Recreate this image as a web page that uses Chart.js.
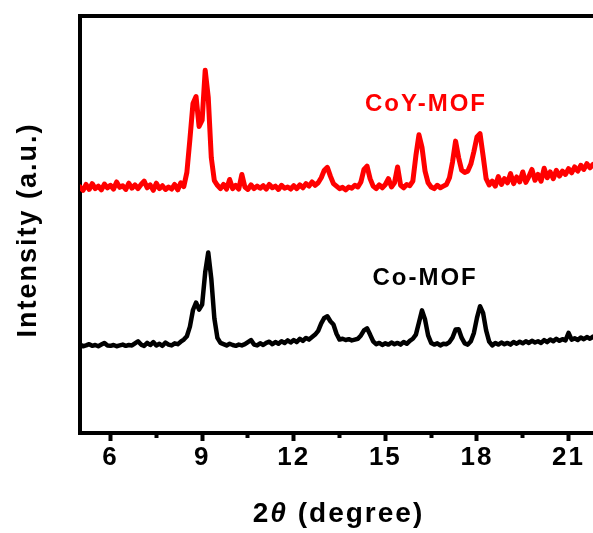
<!DOCTYPE html>
<html>
<head>
<meta charset="utf-8">
<title>XRD patterns</title>
<script src="https://cdn.jsdelivr.net/npm/chart.js@4.4.1/dist/chart.umd.min.js"></script>
<style>
  html, body { margin: 0; padding: 0; background: #fff; overflow: hidden; }
  canvas { display: block; }
</style>
</head>
<body>
<canvas id="xrd-chart" width="593" height="533"></canvas>
<script>

// 2theta positions (degree), 0.1 step
const twoTheta = [
  5.0, 5.1, 5.2, 5.3, 5.4, 5.5, 5.6, 5.7, 5.8, 5.9,
  6.0, 6.1, 6.2, 6.3, 6.4, 6.5, 6.6, 6.7, 6.8, 6.9,
  7.0, 7.1, 7.2, 7.3, 7.4, 7.5, 7.6, 7.7, 7.8, 7.9,
  8.0, 8.1, 8.2, 8.3, 8.4, 8.5, 8.6, 8.7, 8.8, 8.9,
  9.0, 9.1, 9.2, 9.3, 9.4, 9.5, 9.6, 9.7, 9.8, 9.9,
  10.0, 10.1, 10.2, 10.3, 10.4, 10.5, 10.6, 10.7, 10.8, 10.9,
  11.0, 11.1, 11.2, 11.3, 11.4, 11.5, 11.6, 11.7, 11.8, 11.9,
  12.0, 12.1, 12.2, 12.3, 12.4, 12.5, 12.6, 12.7, 12.8, 12.9,
  13.0, 13.1, 13.2, 13.3, 13.4, 13.5, 13.6, 13.7, 13.8, 13.9,
  14.0, 14.1, 14.2, 14.3, 14.4, 14.5, 14.6, 14.7, 14.8, 14.9,
  15.0, 15.1, 15.2, 15.3, 15.4, 15.5, 15.6, 15.7, 15.8, 15.9,
  16.0, 16.1, 16.2, 16.3, 16.4, 16.5, 16.6, 16.7, 16.8, 16.9,
  17.0, 17.1, 17.2, 17.3, 17.4, 17.5, 17.6, 17.7, 17.8, 17.9,
  18.0, 18.1, 18.2, 18.3, 18.4, 18.5, 18.6, 18.7, 18.8, 18.9,
  19.0, 19.1, 19.2, 19.3, 19.4, 19.5, 19.6, 19.7, 19.8, 19.9,
  20.0, 20.1, 20.2, 20.3, 20.4, 20.5, 20.6, 20.7, 20.8, 20.9,
  21.0, 21.1, 21.2, 21.3, 21.4, 21.5, 21.6, 21.7, 21.8
];

// CoY-MOF pattern (offset upwards)
const coyMof = [
  59.0, 58.2, 59.6, 58.4, 59.8, 58.6, 59.2, 58.3, 59.7, 58.8,
  59.4, 58.5, 60.2, 58.9, 59.3, 58.4, 59.9, 58.7, 59.5, 58.6,
  59.6, 60.4, 58.8, 59.5, 58.2, 59.9, 58.6, 59.3, 58.4, 59.0,
  58.5, 59.6, 58.3, 60.0, 59.1, 62.5, 70.5, 79.0, 80.7, 73.5,
  75.0, 87.0, 80.5, 66.0, 60.5, 59.4, 58.6, 59.6, 58.5, 60.8,
  58.6, 59.4, 58.5, 62.0, 59.0, 58.4, 59.5, 58.6, 59.2, 58.7,
  59.3, 58.5, 59.6, 58.8, 59.2, 58.4, 59.4, 58.7, 59.0, 58.5,
  59.3, 58.6, 59.5, 58.8, 59.8, 59.2, 60.2, 59.4, 60.0, 61.2,
  63.0, 63.7, 61.6, 59.8, 59.2, 58.6, 58.9, 58.3, 59.0, 58.7,
  59.4, 59.0, 60.2, 63.2, 64.0, 61.0, 59.2, 58.6, 59.5, 58.8,
  59.6, 61.0, 59.0, 60.0, 63.8, 59.4, 58.8, 59.6, 59.3, 60.4,
  66.5, 71.5, 68.5, 62.8, 60.0, 59.0, 58.6, 59.4, 58.8, 59.2,
  59.6, 61.2, 65.0, 70.0, 66.0, 63.0, 62.5, 62.8, 64.5, 67.5,
  71.0, 71.8, 66.5, 61.0, 59.5, 60.4, 59.2, 61.5, 59.6, 61.0,
  60.0, 62.2, 59.8, 61.4, 60.2, 62.6, 60.1, 61.5, 63.2, 60.6,
  62.0, 60.4, 63.5, 61.2, 62.6, 61.0, 63.0, 61.6, 62.8, 62.0,
  63.4, 62.4, 63.8, 62.8, 64.2, 63.2, 64.6, 63.6, 64.4
];

// Co-MOF pattern
const coMof = [
  21.2, 20.8, 21.0, 21.3, 20.9, 21.1, 20.8, 21.2, 21.6, 21.0,
  20.9, 21.1, 20.8, 21.0, 21.2, 20.9, 21.1, 21.0, 21.5, 22.0,
  21.2, 20.9, 21.6, 21.1, 21.8, 21.0, 21.4, 20.9, 21.7, 21.2,
  21.0, 21.5, 21.3, 21.9, 22.4, 23.2, 25.5, 29.5, 31.3, 29.6,
  30.8, 38.5, 43.3, 37.0, 27.5, 22.8, 21.6, 21.3, 21.0, 21.4,
  21.1, 20.9, 21.2, 21.0, 21.3, 21.8, 22.3, 21.2, 21.0, 21.5,
  21.1, 21.6, 21.9, 21.3, 21.8, 21.4, 22.0, 21.6, 22.2, 21.7,
  22.3, 21.8, 22.6, 22.1, 22.8, 22.4, 23.0, 23.6, 24.5, 26.3,
  27.6, 28.0, 26.8, 26.0, 23.8, 22.4, 22.6, 22.3, 22.5, 22.2,
  22.4, 22.6, 23.4, 24.6, 25.1, 23.6, 22.0, 21.3, 21.6, 21.1,
  21.5, 21.2, 21.7, 21.3, 21.6, 21.2, 21.8, 21.4, 22.1, 22.6,
  23.6, 26.5, 29.4, 27.2, 23.4, 21.6, 21.2, 21.5, 21.0, 21.4,
  21.3, 21.8, 22.9, 24.8, 24.9, 22.8, 21.5, 21.2, 22.0, 24.0,
  27.6, 30.4, 28.8, 24.6, 21.9, 21.0, 21.6, 21.2, 21.7, 21.3,
  21.6, 21.2, 21.8, 21.4, 21.9, 21.5, 22.0, 21.6, 22.1, 21.7,
  22.0, 21.6, 22.3, 21.8, 22.4, 22.0, 22.6, 22.1, 22.5, 22.2,
  24.0, 22.4, 22.7, 22.3, 22.9, 22.5, 23.0, 22.6, 23.1
];

const sampleNames = ["CoY-MOF", "Co-MOF"];
const sampleColors = ["#ff0000", "#000000"];
const majorTicks = [6, 9, 12, 15, 18, 21];

const FONT = "'Liberation Sans', Arial, sans-serif";

function toPoints(xs, ys) {
  return xs.map((x, i) => ({ x: x, y: ys[i] }));
}

// frame top line, sample names and the axis titles (2θ with italic theta)
const decorations = {
  id: "decorations",
  beforeDraw(chart) {
    chart.ctx.letterSpacing = "2px";
  },
  afterDraw(chart, args, opts) {
    const ctx = chart.ctx;
    const area = chart.chartArea;
    const xs = chart.scales.x;
    const ys = chart.scales.y;

    ctx.save();
    ctx.strokeStyle = "#000";
    ctx.lineWidth = 4;
    ctx.beginPath();
    ctx.moveTo(area.left - 2, area.top);
    ctx.lineTo(area.right, area.top);
    ctx.stroke();

    ctx.letterSpacing = "2px";
    ctx.font = "bold 24px " + FONT;
    ctx.textAlign = "center";
    ctx.textBaseline = "middle";
    opts.labels.forEach((lb, i) => {
      ctx.fillStyle = sampleColors[i];
      ctx.fillText(sampleNames[i], xs.getPixelForValue(lb[0]), ys.getPixelForValue(lb[1]));
    });

    ctx.fillStyle = "#000";

    // y axis title
    ctx.save();
    ctx.translate(opts.yTitle[0], opts.yTitle[1]);
    ctx.rotate(-Math.PI / 2);
    ctx.font = "bold 27px " + FONT;
    ctx.fillText("Intensity (a.u.)", 0, 0);
    ctx.restore();

    // x axis title
    const parts = [
      { t: "2", f: "bold 28px " + FONT },
      { t: "\u03B8", f: "italic bold 28px " + FONT },
      { t: " (degree)", f: "bold 28px " + FONT }
    ];
    let total = 0;
    parts.forEach(p => { ctx.font = p.f; p.w = ctx.measureText(p.t).width; total += p.w; });
    let x = (area.left + area.right) / 2 - total / 2 + 2;
    ctx.textAlign = "left";
    parts.forEach(p => { ctx.font = p.f; ctx.fillText(p.t, x, opts.xTitleY); x += p.w; });
    ctx.restore();
  }
};

new Chart(document.getElementById("xrd-chart"), {
  type: "line",
  data: {
    datasets: [
      {
        label: sampleNames[0],
        data: toPoints(twoTheta, coyMof),
        borderColor: sampleColors[0],
        borderWidth: 5,
        pointRadius: 0,
        tension: 0,
        borderJoinStyle: "round",
        borderCapStyle: "round"
      },
      {
        label: sampleNames[1],
        data: toPoints(twoTheta, coMof),
        borderColor: sampleColors[1],
        borderWidth: 4.5,
        pointRadius: 0,
        tension: 0,
        borderJoinStyle: "round",
        borderCapStyle: "round"
      }
    ]
  },
  options: {
    responsive: false,
    animation: false,
    layout: { padding: { top: 16, right: 0, bottom: 0, left: 0 } },
    plugins: {
      legend: { display: false },
      tooltip: { enabled: false },
      decorations: {
        labels: [[16.33, 78.7], [16.3, 37.2]],
        xTitleY: 514,
        yTitle: [29, 230]
      }
    },
    scales: {
      x: {
        type: "linear",
        min: 5,
        max: 21.8,
        afterFit: s => { s.height = 100; },
        border: { display: true, color: "#000", width: 4 },
        grid: {
          display: true,
          drawOnChartArea: false,
          tickLength: 8,
          tickWidth: 4,
          tickColor: "#000",
          tickBorderDash: c => (majorTicks.includes(c.tick && c.tick.value) ? [] : [3, 40])
        },
        ticks: {
          stepSize: 1.5,
          includeBounds: false,
          autoSkip: false,
          maxRotation: 0,
          padding: 1,
          color: "#000",
          font: { family: FONT, size: 26, weight: "bold" },
          callback: v => (majorTicks.includes(v) ? String(v) : "")
        }
      },
      y: {
        min: 0,
        max: 100,
        afterFit: s => { s.width = 80; },
        border: { display: true, color: "#000", width: 4 },
        grid: { display: false },
        ticks: { display: false }
      }
    }
  },
  plugins: [decorations]
});
</script>
</body>
</html>
